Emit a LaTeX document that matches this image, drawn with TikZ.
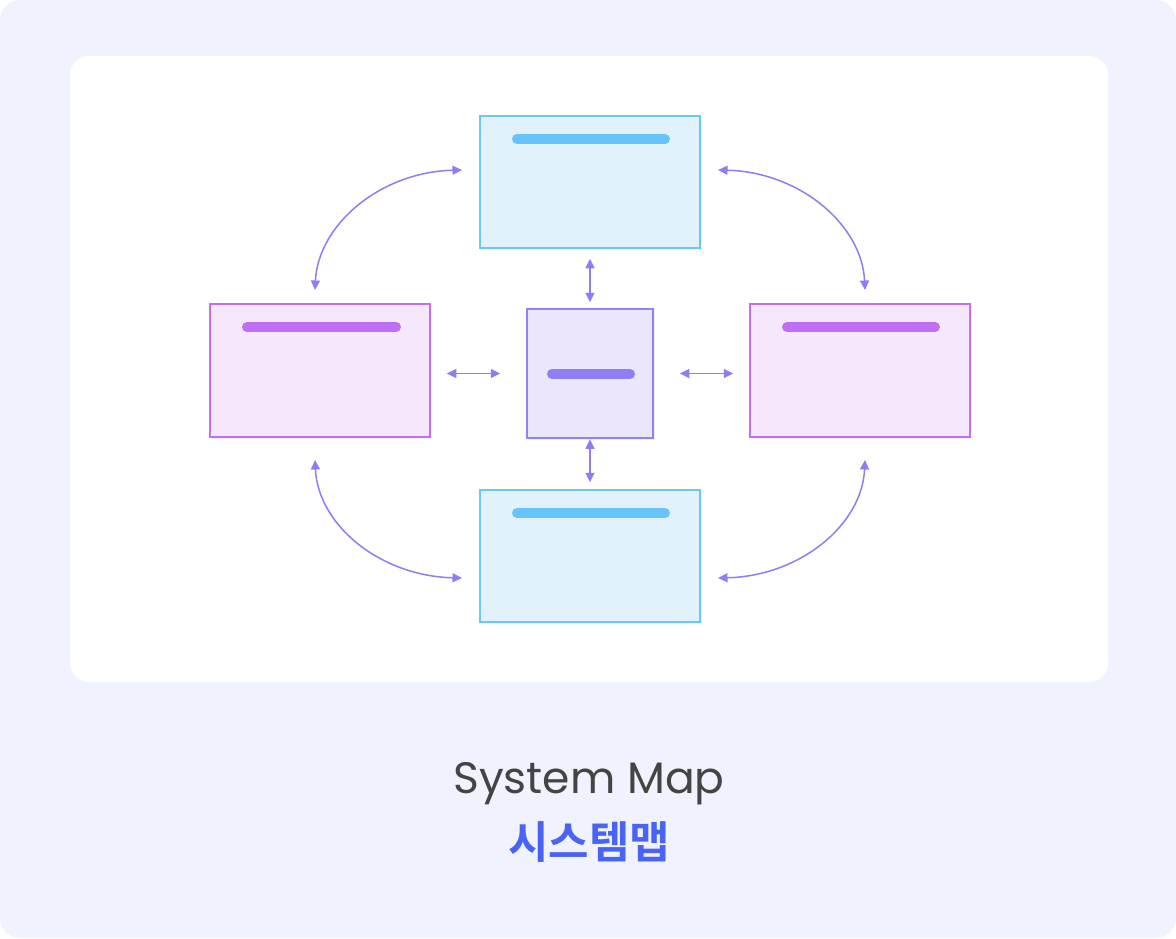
\documentclass[tikz,border=0pt]{standalone}
\usepackage{fontspec}
\newfontfamily\titlefont{Poppins}
\newfontfamily\krfont{Noto Sans CJK KR}[BoldFont={* Bold}]
\usetikzlibrary{arrows.meta,shadows}
\definecolor{pagebg}{HTML}{F0F3FE}
\definecolor{bluefill}{HTML}{E1F2FD}
\definecolor{bluestroke}{HTML}{6CC6F8}
\definecolor{bluebar}{HTML}{66C4FB}
\definecolor{pinkfill}{HTML}{F5E8FC}
\definecolor{pinkstroke}{HTML}{C26FF3}
\definecolor{pinkbar}{HTML}{BF6FF5}
\definecolor{violfill}{HTML}{EBE6FC}
\definecolor{violstroke}{HTML}{9580F8}
\definecolor{violbar}{HTML}{917EF7}
\definecolor{arrowc}{HTML}{8F7CF6}
\definecolor{titlegray}{HTML}{444444}
\definecolor{krblue}{HTML}{4A63F7}
\tikzset{
  box/.style={draw, line width=1.5pt, inner sep=0pt,
    drop shadow={opacity=0.12, shadow xshift=2pt, shadow yshift=-2pt}},
  bluebox/.style={box, draw=bluestroke, fill=bluefill, minimum width=220pt, minimum height=132pt},
  pinkbox/.style={box, draw=pinkstroke, fill=pinkfill, minimum width=220pt, minimum height=133pt},
  violbox/.style={box, draw=violstroke, fill=violfill, minimum width=126pt, minimum height=129pt},
  bar/.style={line width=10pt, line cap=round},
  conn/.style={draw=arrowc, line width=1.5pt,
    {Triangle[length=9.5pt,width=9pt]}-{Triangle[length=9.5pt,width=9pt]}},
}
\begin{document}
\begin{tikzpicture}[x=1pt,y=-1pt]
\useasboundingbox (0,0) rectangle (1176,938);
\fill[pagebg, rounded corners=20pt] (0,0) rectangle (1176,938);
\fill[white, rounded corners=19pt] (70,56) rectangle (1108,682);

\node[bluebox] (top) at (590,182) {};
\node[bluebox] (bot) at (590,556) {};
\node[pinkbox] (left) at (320,370.5) {};
\node[pinkbox] (right) at (860,370.5) {};
\node[violbox] (mid) at (590,373.5) {};

\draw[bar, bluebar] (517,139) -- (665,139);
\draw[bar, bluebar] (517,513) -- (665,513);
\draw[bar, pinkbar] (247,327) -- (396,327);
\draw[bar, pinkbar] (787,327) -- (935,327);
\draw[bar, violbar] (552,374) -- (630,374);

% straight connectors
\draw[conn] ([yshift=-10pt]top.south) -- ([yshift=6pt]mid.north);
\draw[conn] ([yshift=-0.5pt]mid.south) -- ([yshift=7pt]bot.north);
\draw[conn] ([xshift=16pt]left.east |- mid.center) -- ([xshift=-26pt]mid.west);
\draw[conn] ([xshift=26pt]mid.east) -- ([xshift=-16pt]right.west |- mid.center);

% curved connectors
\coordinate (tl1) at (462,170);
\coordinate (tl2) at (315,290);
\coordinate (tr1) at (718,170);
\coordinate (tr2) at (865,290);
\coordinate (bl1) at (315,460);
\coordinate (bl2) at (462,578);
\coordinate (br1) at (865,460);
\coordinate (br2) at (718,578);
\draw[conn] (tl1) .. controls (380,172) and (318,225) .. (tl2);
\draw[conn] (tr1) .. controls (800,172) and (862,225) .. (tr2);
\draw[conn] (bl1) .. controls (318,525) and (380,576) .. (bl2);
\draw[conn] (br1) .. controls (862,525) and (800,576) .. (br2);

\node[font=\titlefont\fontsize{44}{52}\selectfont, text=titlegray, anchor=base] (title) at (589,793) {System Map};
\node[font=\krfont\bfseries\fontsize{44}{52}\selectfont, text=krblue, anchor=base] (subtitle) at (589,858) {시스템맵};
\end{tikzpicture}
\end{document}
